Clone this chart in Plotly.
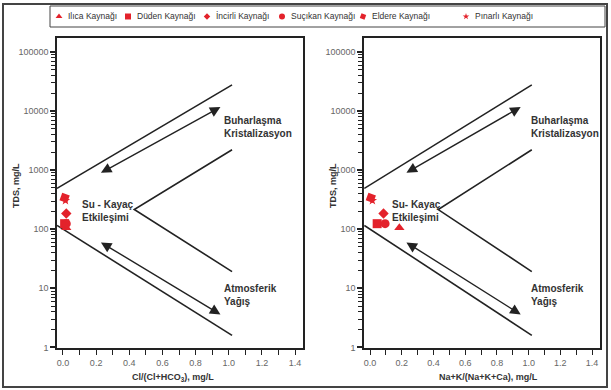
import numpy as np
import plotly.graph_objects as go

# ---------------- data ----------------
sources = ["Ilıca Kaynağı", "Düden Kaynağı", "İncirli Kaynağı",
           "Suçıkan Kaynağı", "Eldere Kaynağı", "Pınarlı Kaynağı"]
symbols = ["triangle-up", "square", "diamond", "circle", "square", "star"]
sizes = [9, 9, 8, 9, 8, 7]
angles = [0, 0, 0, 0, 20, 0]
tds = [106, 124, 184, 124, 340, 305]                   # TDS, mg/L
cl_ratio = [0.02, 0.01, 0.02, 0.02, 0.01, 0.015]        # Cl/(Cl+HCO3)
na_ratio = [0.185, 0.045, 0.085, 0.095, 0.005, 0.015]   # Na+K/(Na+K+Ca)

# Gibbs boundary lines (ratio, TDS)
upper_x = [-0.036, 1.02]
upper_y = [490, 27600]
lower_x = [-0.036, 1.02]
lower_y = [116, 1.6]
v_x = [1.02, 0.43, 1.02]
v_y = [2210, 215, 19.2]
arrow_up = [(0.22, 870), (0.95, 11700)]
arrow_low = [(0.22, 62), (0.95, 3.6)]

y_ticks = [1, 10, 100, 1000, 10000, 100000]
x_labels = ["0.0", "0.2", "0.4", "0.6", "0.8", "1.0", "1.2", "1.4"]

RED = "#e3222b"
DARK = "#222222"
TXT = "#333333"
FONT = "Arial, Liberation Sans, sans-serif"
W, H = 611, 390

fig = go.Figure()

panels = [("x", "y", cl_ratio, 0.96, 0.10, "Su - Kayaç"),
          ("x2", "y2", na_ratio, 1.0, 0.125, "Su- Kayaç")]

for xa, ya, ratios, lab_x, su_x, su_txt in panels:
    for xs, ys in [(upper_x, upper_y), (lower_x, lower_y), (v_x, v_y)]:
        fig.add_trace(go.Scatter(x=xs, y=ys, xaxis=xa, yaxis=ya, mode="lines",
                                 line=dict(color=DARK, width=1.6),
                                 showlegend=False, hoverinfo="skip"))
    for i, s in enumerate(sources):
        fig.add_trace(go.Scatter(x=[ratios[i]], y=[tds[i]], xaxis=xa, yaxis=ya,
                                 mode="markers", name=s, showlegend=False,
                                 cliponaxis=False,
                                 marker=dict(symbol=symbols[i], size=sizes[i],
                                             angle=angles[i], color=RED)))
    for (x0, y0), (x1, y1) in [arrow_up, arrow_low]:
        fig.add_annotation(xref=xa, yref=ya, axref=xa, ayref=ya,
                           x=x1, y=np.log10(y1), ax=x0, ay=np.log10(y0),
                           text="", showarrow=True, arrowside="end+start",
                           arrowhead=2, startarrowhead=2, arrowsize=1.5,
                           startarrowsize=1.5, arrowwidth=1.4, arrowcolor=DARK)
    lab_font = dict(family=FONT, size=10, color=TXT, weight="bold")
    fig.add_annotation(xref=xa, yref=ya, x=lab_x, y=3.73, text="Buharlaşma<br>Kristalizasyon",
                       showarrow=False, xanchor="left", yanchor="middle", align="left", font=lab_font)
    fig.add_annotation(xref=xa, yref=ya, x=lab_x, y=0.88, text="Atmosferik<br>Yağış",
                       showarrow=False, xanchor="left", yanchor="middle", align="left", font=lab_font)
    fig.add_annotation(xref=xa, yref=ya, x=su_x, y=2.31, text=su_txt + "<br>Etkileşimi",
                       showarrow=False, xanchor="left", yanchor="middle", align="left", font=lab_font)

# ---------------- legend (manual, inside box) ----------------
leg_x = [59, 128, 207, 282, 363, 466]
for i, s in enumerate(sources):
    fig.add_trace(go.Scatter(x=[leg_x[i]], y=[16.5], xaxis="x3", yaxis="y3", mode="markers",
                             showlegend=False, hoverinfo="skip", cliponaxis=False,
                             marker=dict(symbol=symbols[i], size=max(sizes[i] - 3, 5),
                                         angle=angles[i], color=RED)))
    fig.add_annotation(xref="x3", yref="y3", x=leg_x[i] + 7, y=16.5, text=s, showarrow=False,
                       xanchor="left", yanchor="middle",
                       font=dict(family=FONT, size=8.5, color=TXT))

# ---------------- axes ----------------
def xax(domain):
    return dict(domain=domain, range=[-0.036, 1.448], showgrid=False, zeroline=False,
                showline=True, mirror=True, linecolor=DARK, linewidth=1.5,
                ticks="outside", ticklen=5, tickcolor=DARK, tickwidth=1.2,
                tickmode="array", tickvals=[float(t) for t in x_labels], ticktext=x_labels,
                tickfont=dict(family=FONT, size=9, color="#666666"),
                minor=dict(tickmode="linear", tick0=0.1, dtick=0.2, ticks="outside",
                           ticklen=5, tickcolor=DARK, tickwidth=1.2, showgrid=False),
                automargin=False, fixedrange=True)

def yax(anchor):
    return dict(domain=[42 / H, 1 - 38 / H], type="log", range=[-0.01, 5.235],
                anchor=anchor, showgrid=False, zeroline=False,
                showline=True, mirror=True, linecolor=DARK, linewidth=1.5,
                ticks="outside", ticklen=5, tickcolor=DARK, tickwidth=1.6,
                tickmode="array", tickvals=y_ticks, ticktext=[str(v) for v in y_ticks],
                tickfont=dict(family=FONT, size=9, color="#666666"),
                minor=dict(dtick="D1", ticks="outside", ticklen=4, tickcolor=DARK,
                           tickwidth=1.2, showgrid=False),
                automargin=False, fixedrange=True)

xl = xax([57 / W, 303 / W]); xl["anchor"] = "y"
xr = xax([364 / W, 600 / W]); xr["anchor"] = "y2"; xr["range"] = [-0.038, 1.45]

fig.update_layout(
    width=W, height=H, margin=dict(l=0, r=0, t=0, b=0),
    template="none", paper_bgcolor="white", plot_bgcolor="white",
    font=dict(family=FONT),
    xaxis=xl, yaxis=yax("x"), xaxis2=xr, yaxis2=yax("x2"),
    xaxis3=dict(domain=[0, 1], range=[0, W], visible=False, fixedrange=True, anchor="y3"),
    yaxis3=dict(domain=[1 - 30 / H, 1 - 3 / H], range=[30, 3], visible=False,
                fixedrange=True, anchor="x3"),
    showlegend=False,
)

# axis titles
tfont = dict(family=FONT, size=9, color=TXT, weight="bold")
for xp, yp, txt, ang in [(16, 186, "TDS, mg/L", -90), (333, 186, "TDS, mg/L", -90),
                         (173, 377, "Cl/(Cl+HCO<sub>3</sub>), mg/L", 0),
                         (488, 377, "Na+K/(Na+K+Ca), mg/L", 0)]:
    fig.add_annotation(xref="paper", yref="paper", x=xp / W, y=1 - yp / H, text=txt,
                       textangle=ang, showarrow=False, font=tfont,
                       xanchor="center", yanchor="middle")

# frames
fig.add_shape(type="rect", xref="paper", yref="paper", x0=3 / W, x1=607 / W,
              y0=1 - 387 / H, y1=1 - 4 / H, line=dict(color="#444444", width=2))
fig.add_shape(type="rect", xref="paper", yref="paper", x0=50 / W, x1=605 / W,
              y0=1 - 27 / H, y1=1 - 6 / H, line=dict(color="#444444", width=1))

fig.write_html("out.html", config={"displayModeBar": False},
               post_script="document.body.style.margin='0';document.body.style.overflow='hidden';")
